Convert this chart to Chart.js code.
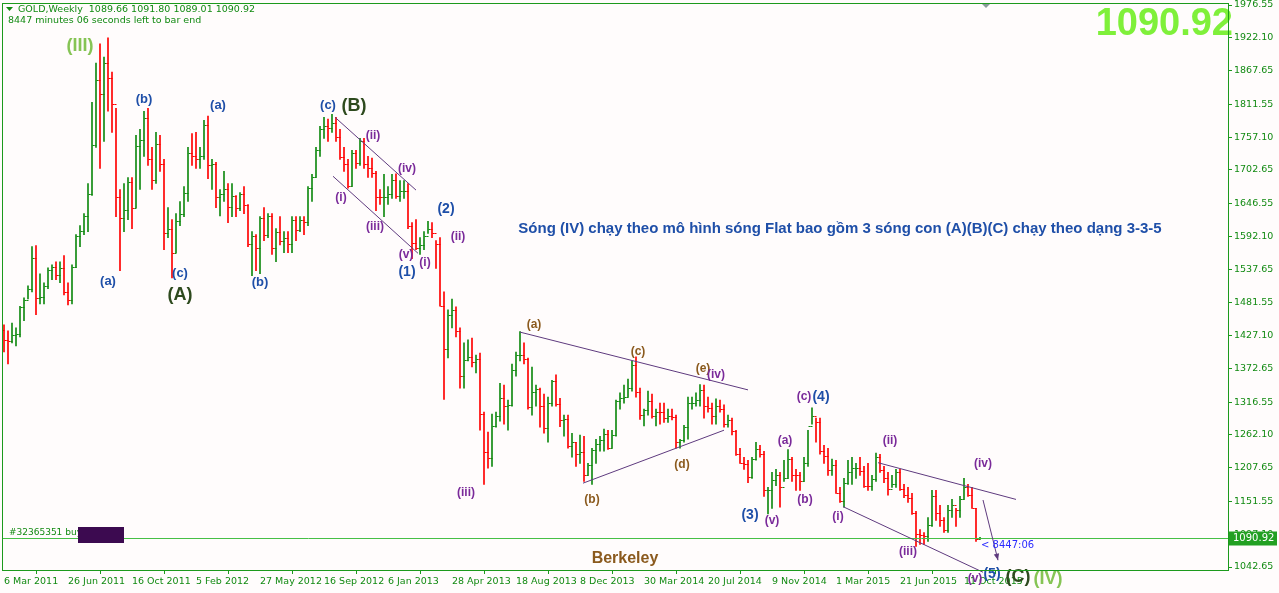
<!DOCTYPE html>
<html>
<head>
<meta charset="utf-8">
<script src="https://cdn.jsdelivr.net/npm/chart.js@4.4.1/dist/chart.umd.min.js"></script>
<style>
  html, body { margin: 0; padding: 0; background: #fffcfc; }
  canvas { display: block; }
</style>
</head>
<body>
<canvas id="chart" width="1279" height="593"></canvas>
<script>
// ======================== ДАННЫЕ ========================
// GOLD weekly, first bar 6 Mar 2011
const START_DATE = new Date(Date.UTC(2011, 2, 6));
const EMPTY_SLOTS = 62;

const highs = [
  1445,1435,1448,1440,1476,1490,1510,1575,1577,1530,1515,1540,1545,1550,1550,1560,1515,1545,1595,1610,1630,1680,1815,1880,1912,1890,1922,1865,1805,1670,
  1680,1690,1690,1760,1770,1800,1805,1740,1765,1760,1720,1640,1620,1630,1650,1675,1740,1763,1765,1740,1785,1792,1720,1715,1670,1700,1680,1680,1660,1665,
  1675,1645,1600,1595,1625,1640,1630,1630,1605,1625,1600,1600,1625,1625,1625,1625,1675,1695,1740,1775,1790,1787,1795,1790,1770,1740,1720,1735,1735,1755,
  1755,1725,1722,1700,1670,1695,1675,1695,1696,1685,1685,1680,1615,1620,1590,1600,1617,1615,1585,1590,1500,1470,1488,1475,1440,1415,1420,1423,1395,1398,
  1300,1267,1297,1300,1348,1345,1320,1380,1400,1434,1415,1390,1375,1345,1340,1330,1325,1353,1362,1323,1295,1295,1265,1250,1262,1260,1215,1240,1255,1260,
  1272,1270,1270,1320,1332,1345,1355,1385,1392,1340,1305,1335,1330,1305,1315,1315,1305,1305,1295,1255,1278,1325,1325,1332,1346,1345,1325,1315,1322,1320,
  1312,1295,1290,1270,1240,1225,1220,1225,1250,1245,1235,1175,1200,1205,1200,1220,1238,1225,1205,1200,1225,1270,1307,1290,1290,1245,1240,1222,1220,1175,
  1190,1220,1225,1215,1225,1210,1215,1195,1232,1230,1210,1200,1195,1205,1205,1180,1175,1165,1135,1105,1100,1125,1170,1170,1145,1125,1145,1155,1140,1160,
  1190,1180,1175,1140,1092
];
const lows = [
  1400,1380,1415,1410,1425,1452,1488,1500,1462,1480,1480,1505,1520,1520,1515,1495,1478,1480,1540,1575,1595,1600,1660,1740,1705,1750,1800,1765,1625,1535,
  1600,1620,1605,1640,1670,1725,1710,1670,1680,1700,1570,1590,1523,1565,1610,1625,1650,1710,1705,1705,1720,1688,1670,1640,1626,1650,1615,1625,1625,1635,
  1630,1575,1527,1535,1530,1585,1590,1562,1550,1578,1565,1565,1565,1585,1600,1595,1610,1650,1690,1725,1755,1750,1765,1750,1720,1700,1672,1675,1705,1710,
  1705,1690,1690,1635,1645,1625,1645,1655,1655,1650,1655,1605,1555,1570,1562,1570,1597,1590,1539,1476,1321,1390,1440,1425,1340,1340,1385,1375,1365,1270,
  1180,1207,1210,1275,1285,1280,1270,1310,1360,1385,1380,1305,1295,1310,1275,1265,1250,1310,1310,1276,1260,1240,1225,1210,1215,1185,1195,1180,1215,1235,
  1235,1238,1240,1260,1305,1315,1325,1335,1325,1288,1277,1295,1290,1277,1280,1283,1283,1287,1240,1240,1250,1255,1305,1310,1310,1290,1300,1280,1280,1300,
  1275,1275,1262,1228,1215,1205,1183,1190,1220,1225,1160,1131,1140,1178,1142,1185,1190,1185,1170,1170,1185,1210,1280,1250,1230,1215,1195,1195,1165,1150,
  1142,1180,1180,1190,1195,1175,1170,1170,1185,1200,1183,1162,1175,1175,1170,1158,1150,1130,1077,1080,1080,1085,1110,1120,1110,1100,1100,1125,1110,1125,
  1155,1160,1140,1085,1089
];
const closes = [
  1420,1418,1428,1430,1474,1486,1505,1556,1490,1492,1510,1536,1542,1528,1540,1500,1486,1542,1592,1601,1626,1663,1744,1852,1828,1880,1855,1812,1658,1622,
  1636,1683,1640,1742,1752,1788,1721,1686,1746,1712,1598,1605,1565,1617,1630,1664,1730,1726,1720,1726,1778,1710,1712,1657,1663,1670,1641,1660,1640,1662,
  1644,1580,1592,1573,1622,1594,1626,1572,1599,1585,1590,1580,1620,1603,1620,1616,1672,1690,1735,1770,1775,1773,1781,1758,1724,1712,1676,1730,1714,1750,
  1713,1706,1697,1658,1657,1657,1662,1686,1659,1667,1667,1609,1581,1573,1578,1592,1605,1597,1580,1476,1405,1462,1470,1435,1360,1387,1392,1383,1388,1297,
  1234,1223,1277,1293,1323,1310,1312,1370,1395,1395,1389,1308,1333,1338,1310,1273,1316,1352,1314,1287,1288,1244,1250,1230,1234,1196,1212,1237,1247,1254,
  1264,1240,1262,1318,1324,1326,1340,1379,1334,1295,1303,1318,1293,1301,1300,1290,1293,1292,1251,1253,1275,1316,1316,1320,1337,1310,1307,1294,1310,1305,
  1280,1287,1268,1230,1216,1214,1192,1222,1238,1231,1170,1170,1188,1196,1175,1190,1222,1196,1195,1186,1216,1277,1293,1283,1235,1227,1204,1212,1166,1152,
  1182,1200,1207,1208,1203,1178,1177,1189,1226,1204,1190,1172,1180,1201,1173,1163,1157,1133,1097,1096,1094,1113,1160,1133,1121,1104,1138,1145,1137,1156,
  1176,1162,1141,1089,1090.92
];
const opens = [1436].concat(closes.slice(0, closes.length - 1));
opens[opens.length - 1] = 1089.66;

const priceTicks = [1976.55,1922.10,1867.65,1811.55,1757.10,1702.65,1646.55,1592.10,1537.65,1481.55,1427.10,1372.65,1316.55,1262.10,1207.65,1151.55,1097.10,1042.65];
const LAST_PRICE = 1090.92;

// wave labels: [text, bar index, price, color, size]
const BLUE = '#1f4fa8', PURPLE = '#7a2a9a', BROWN = '#8b5a1e', DARK = '#2e4a1e', LIGHT = '#86c455';
const waveLabels = [
  ['(III)', 19, 1909, LIGHT, 18],
  ['(a)', 26, 1518, BLUE, 13], ['(b)', 35, 1819, BLUE, 13], ['(c)', 44, 1531, BLUE, 13],
  ['(A)', 44, 1494, DARK, 18],
  ['(a)', 53.5, 1809, BLUE, 13], ['(b)', 64, 1516, BLUE, 13],
  ['(c)', 81, 1809, BLUE, 13], ['(B)', 87.5, 1809, DARK, 18],
  ['(i)', 84.25, 1656, PURPLE, 12], ['(ii)', 92.25, 1760, PURPLE, 12], ['(iii)', 92.75, 1609, PURPLE, 12],
  ['(iv)', 100.75, 1704, PURPLE, 12], ['(v)', 100.5, 1561, PURPLE, 12],
  ['(1)', 100.75, 1533, BLUE, 14], ['(i)', 105.25, 1548, PURPLE, 12],
  ['(2)', 110.5, 1637, BLUE, 14], ['(ii)', 113.5, 1592, PURPLE, 12], ['(iii)', 115.5, 1166, PURPLE, 12],
  ['(a)', 132.5, 1446, BROWN, 12], ['(c)', 158.5, 1401, BROWN, 12], ['(b)', 147, 1154, BROWN, 12],
  ['(d)', 169.5, 1213, BROWN, 12], ['(e)', 174.75, 1372, BROWN, 12], ['(iv)', 178, 1363, PURPLE, 12],
  ['(3)', 186.5, 1129, BLUE, 14], ['(v)', 192, 1119, PURPLE, 12],
  ['(a)', 195.25, 1252, PURPLE, 12], ['(b)', 200.25, 1154, PURPLE, 12],
  ['(c)', 200, 1325, PURPLE, 12], ['(4)', 204.25, 1325, BLUE, 14],
  ['(i)', 208.5, 1127, PURPLE, 12], ['(ii)', 221.5, 1252, PURPLE, 12], ['(iii)', 226, 1068, PURPLE, 12],
  ['(iv)', 244.75, 1214, PURPLE, 12],
  ['(v)', 242.75, 1023, PURPLE, 12], ['(5)', 247, 1030, BLUE, 14],
  ['(C)', 253.5, 1026, DARK, 18], ['(IV)', 261, 1023, LIGHT, 18]
];

// trend lines: [idx1, price1, idx2, price2]
const trendLines = [
  [82.75, 1790, 103, 1669],
  [82.25, 1692, 103.5, 1564],
  [129, 1433, 186, 1337],
  [144.75, 1182, 180, 1270],
  [218.5, 1216, 253, 1155],
  [209.75, 1143, 244.75, 1034]
];
const arrowLine = [244.75, 1154, 248.5, 1054];

function weekLabel(i) {
  const d = new Date(START_DATE.getTime() + i * 7 * 86400000);
  const m = ['Jan','Feb','Mar','Apr','May','Jun','Jul','Aug','Sep','Oct','Nov','Dec'][d.getUTCMonth()];
  return d.getUTCDate() + ' ' + m + ' ' + d.getUTCFullYear();
}

const GREEN = '#128a12';
const RED = '#ff0000';
const AXIS = '#1c9a1c';

// ======================== ПЛАГИН ДЛЯ OHLC И НАДПИСЕЙ ========================
const overlayPlugin = {
  id: 'overlay',
  afterDatasetsDraw(chart) {
    const ctx = chart.ctx;
    const xs = chart.scales.x, ys = chart.scales.y;
    const area = chart.chartArea;
    const X = v => xs.getPixelForValue(v);
    const Y = v => ys.getPixelForValue(v);
    ctx.save();

    // open/close ticks
    ctx.lineWidth = 1;
    for (let i = 0; i < closes.length; i++) {
      const x = Math.round(X(i)) + 0.5;
      ctx.strokeStyle = closes[i] >= opens[i] ? GREEN : RED;
      ctx.beginPath();
      ctx.moveTo(x - 2, Math.round(Y(opens[i])) + 0.5);
      ctx.lineTo(x, Math.round(Y(opens[i])) + 0.5);
      ctx.moveTo(x, Math.round(Y(closes[i])) + 0.5);
      ctx.lineTo(x + 2, Math.round(Y(closes[i])) + 0.5);
      ctx.stroke();
    }

    // last price line
    const yl = Math.round(Y(LAST_PRICE)) + 0.5;
    ctx.strokeStyle = '#46c046';
    ctx.beginPath(); ctx.moveTo(area.left, yl); ctx.lineTo(area.right, yl); ctx.stroke();

    // trend lines
    ctx.strokeStyle = '#5e3a7e';
    trendLines.forEach(t => {
      ctx.beginPath(); ctx.moveTo(X(t[0]), Y(t[1])); ctx.lineTo(X(t[2]), Y(t[3])); ctx.stroke();
    });
    const ax1 = X(arrowLine[0]), ay1 = Y(arrowLine[1]), ax2 = X(arrowLine[2]), ay2 = Y(arrowLine[3]);
    ctx.beginPath(); ctx.moveTo(ax1, ay1); ctx.lineTo(ax2, ay2); ctx.stroke();
    const ang = Math.atan2(ay2 - ay1, ax2 - ax1);
    ctx.fillStyle = '#5e3a7e';
    ctx.beginPath();
    ctx.moveTo(ax2, ay2);
    ctx.lineTo(ax2 - 7 * Math.cos(ang - 0.4), ay2 - 7 * Math.sin(ang - 0.4));
    ctx.lineTo(ax2 - 7 * Math.cos(ang + 0.4), ay2 - 7 * Math.sin(ang + 0.4));
    ctx.fill();

    // wave labels
    ctx.textAlign = 'center';
    ctx.textBaseline = 'middle';
    waveLabels.forEach(w => {
      ctx.fillStyle = w[3];
      ctx.font = 'bold ' + w[4] + 'px "Liberation Sans", Arial, sans-serif';
      ctx.fillText(w[0], X(w[1]), Y(w[2]));
    });

    // texts
    ctx.fillStyle = '#1f4fa8';
    ctx.font = 'bold 15px "Liberation Sans", Arial, sans-serif';
    ctx.fillText('Sóng (IV) chạy theo mô hình sóng Flat bao gồm 3 sóng con (A)(B)(C) chạy theo dạng 3-3-5', 840, 229);
    ctx.fillStyle = '#8b5a1e';
    ctx.font = 'bold 16px "Liberation Sans", Arial, sans-serif';
    ctx.fillText('Berkeley', 625, 559);
    ctx.fillStyle = '#7ff03a';
    ctx.font = 'bold 38px "Liberation Sans", Arial, sans-serif';
    ctx.textAlign = 'right';
    ctx.fillText('1090.92', 1233, 25);

    ctx.textAlign = 'left';
    ctx.font = '9.5px "DejaVu Sans", sans-serif';
    ctx.fillStyle = GREEN;
    ctx.fillText('GOLD,Weekly  1089.66 1091.80 1089.01 1090.92', 18, 10);
    ctx.fillText('8447 minutes 06 seconds left to bar end', 8, 21);
    ctx.font = '9px "DejaVu Sans", sans-serif';
    ctx.fillText('#32365351 buy', 9, 533);
    ctx.fillStyle = '#3c0a50';
    ctx.fillRect(78, 527, 46, 16);
    ctx.fillStyle = '#2a2aff';
    ctx.font = '10px "DejaVu Sans", sans-serif';
    ctx.fillText('< 8447:06', 981, 545);
    ctx.beginPath();
    ctx.fillStyle = GREEN;
    ctx.moveTo(6, 7); ctx.lineTo(13, 7); ctx.lineTo(9.5, 11); ctx.fill();
    ctx.fillStyle = '#8a9a9a';
    ctx.beginPath(); ctx.moveTo(981, 3); ctx.lineTo(991, 3); ctx.lineTo(986, 8); ctx.fill();

    // price box on axis
    ctx.fillStyle = '#22a022';
    ctx.fillRect(area.right + 1, yl - 7, 48, 14);
    ctx.fillStyle = '#ffffff';
    ctx.fillText('1090.92', area.right + 5, yl);

    // frame
    ctx.strokeStyle = AXIS;
    ctx.strokeRect(area.left + 0.5, area.top + 0.5, area.right - area.left, area.bottom - area.top);
    ctx.restore();
  }
};

// ======================== ГРАФИК ========================
const barData = highs.map((h, i) => ({ x: i, y: [lows[i], h] }));
const barColors = closes.map((c, i) => c >= opens[i] ? GREEN : RED);

new Chart(document.getElementById('chart'), {
  type: 'bar',
  data: {
    datasets: [{
      data: barData,
      backgroundColor: barColors,
      borderWidth: 0,
      barThickness: 1,
      grouped: false
    }]
  },
  options: {
    responsive: false,
    animation: false,
    devicePixelRatio: 1,
    layout: { padding: { left: 2, top: 3, right: 0, bottom: 0 } },
    plugins: { legend: { display: false }, tooltip: { enabled: false } },
    scales: {
      x: {
        type: 'linear',
        min: -0.5,
        max: closes.length + EMPTY_SLOTS - 1,
        offset: false,
        afterBuildTicks: s => { const t = []; for (let i = 0; i < closes.length; i += 16) t.push({ value: i }); s.ticks = t; },
        afterFit: s => { s.height = 23; s.paddingLeft = 0; s.paddingRight = 0; },
        grid: { drawOnChartArea: false, color: AXIS, tickLength: 4 },
        border: { color: AXIS },
        ticks: {
          callback: v => weekLabel(v),
          align: 'start',
          maxRotation: 0,
          autoSkip: false,
          color: GREEN,
          padding: 2,
          font: { family: 'DejaVu Sans', size: 9.5 }
        }
      },
      y: {
        position: 'right',
        min: 1037.7,
        max: 1979.9,
        afterBuildTicks: s => { s.ticks = priceTicks.map(v => ({ value: v })); },
        afterFit: s => { s.width = 51; s.paddingTop = 0; s.paddingBottom = 0; },
        grid: { drawOnChartArea: false, color: AXIS, tickLength: 4 },
        border: { color: AXIS },
        ticks: {
          callback: v => v.toFixed(2),
          color: GREEN,
          padding: 2,
          font: { family: 'DejaVu Sans', size: 9.5 }
        }
      }
    }
  },
  plugins: [overlayPlugin]
});
</script>
</body>
</html>
